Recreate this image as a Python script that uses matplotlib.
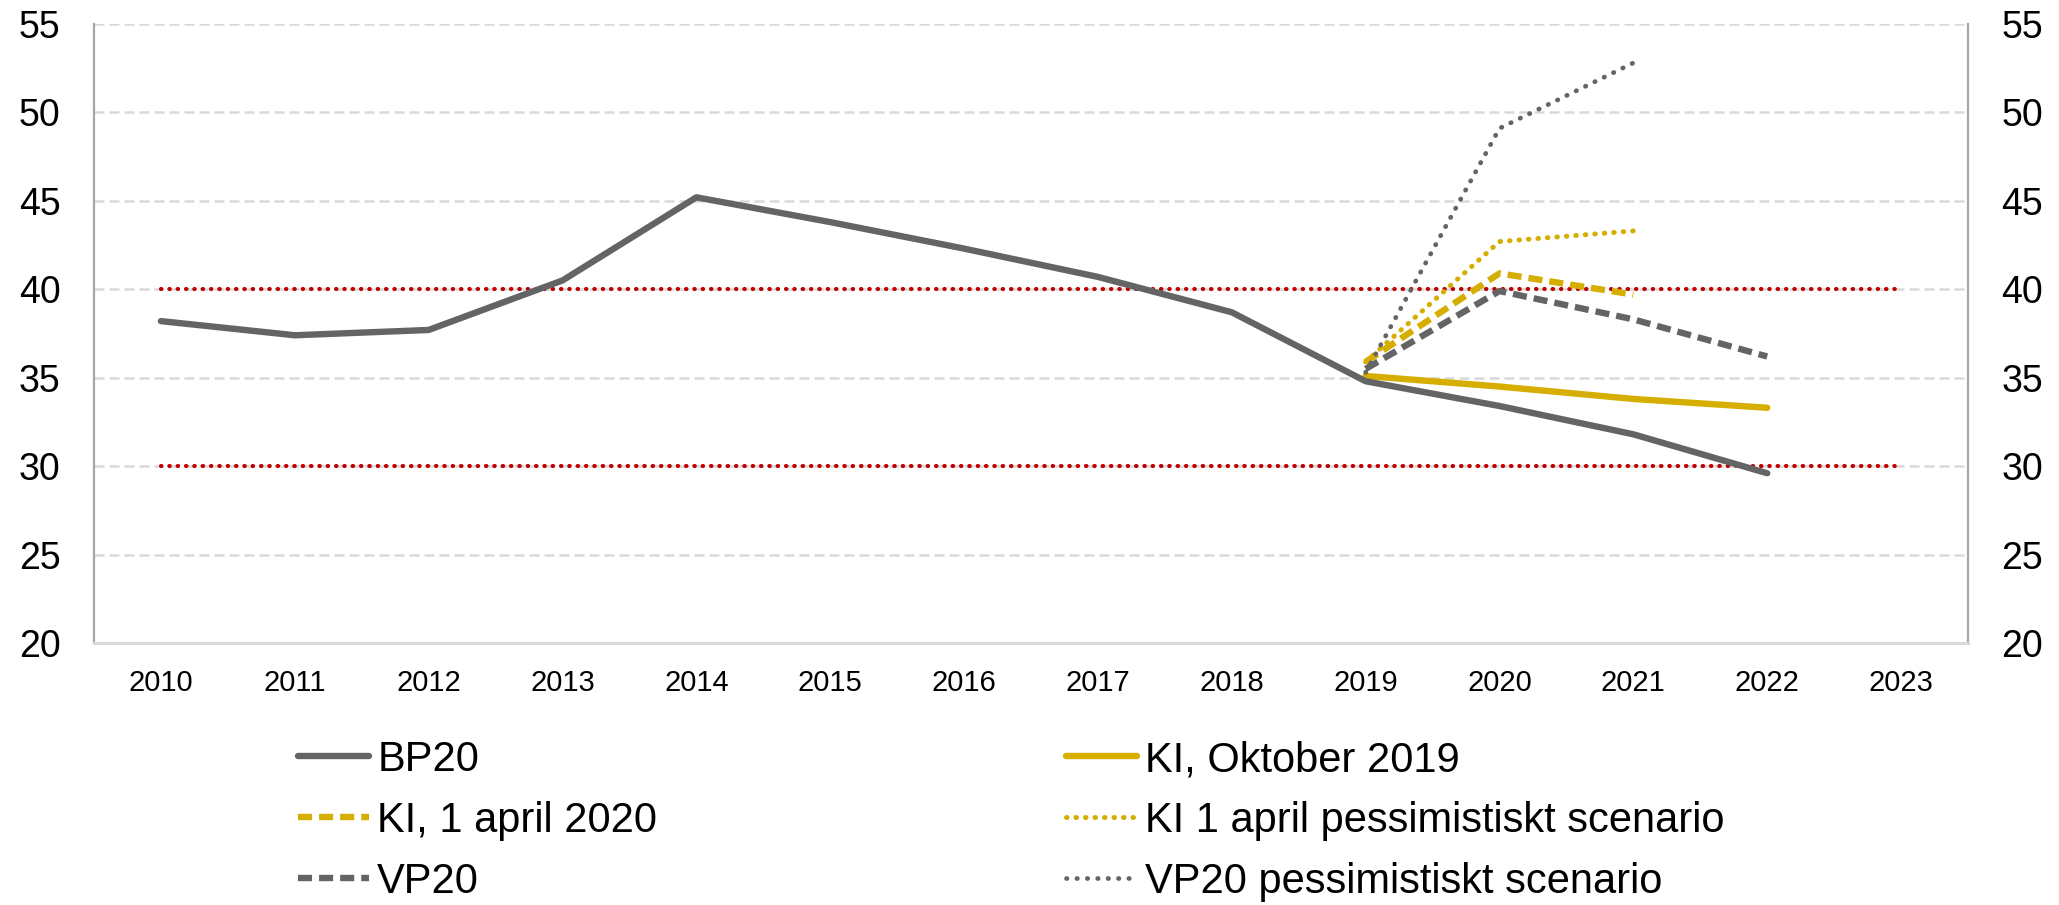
import matplotlib
matplotlib.use("Agg")
import matplotlib.pyplot as plt

plt.rcParams['font.family'] = ['Liberation Sans', 'DejaVu Sans']

years = list(range(2010, 2024))
bp20_years = list(range(2010, 2023))
bp20 = [38.2, 37.4, 37.7, 40.5, 45.2, 43.8, 42.3, 40.7, 38.7, 34.8, 33.4, 31.8, 29.6]
ki_okt_years = [2019, 2020, 2021, 2022]
ki_okt = [35.1, 34.5, 33.8, 33.3]
ki_apr_years = [2019, 2020, 2021]
ki_apr = [35.9, 40.9, 39.7]
ki_apr_pess_years = [2019, 2020, 2021]
ki_apr_pess = [35.9, 42.7, 43.3]
vp20_years = [2019, 2020, 2021, 2022]
vp20 = [35.5, 39.9, 38.3, 36.2]
vp20_pess_years = [2019, 2020, 2021]
vp20_pess = [35.3, 49.1, 52.8]
upper_limit = 40
lower_limit = 30
yticks = [20, 25, 30, 35, 40, 45, 50, 55]

GREY = '#646464'
YEL = '#D6AE00'
RED = '#C00000'

fig = plt.figure(figsize=(20.59, 9.05), dpi=100)
ax = fig.add_axes([94/2059, 1-643/905, (1968-94)/2059, (643-24)/905])

x = lambda ys: [y - 2010 for y in ys]
xs = x(years)

# gridlines
for v in yticks[1:]:
    ax.axhline(v, color='#D9D9D9', lw=1.8, dashes=(4, 2), zorder=0)

# limit lines
ax.plot(xs, [upper_limit]*len(xs), color=RED, lw=3.0, dashes=(0.1, 1.9),
        dash_capstyle='round', zorder=2)
ax.plot(xs, [lower_limit]*len(xs), color=RED, lw=3.0, dashes=(0.1, 1.9),
        dash_capstyle='round', zorder=2)

lw_main = 4.6
l_bp, = ax.plot(x(bp20_years), bp20, color=GREY, lw=lw_main, solid_capstyle='round',
                solid_joinstyle='round', zorder=5, label='BP20')
l_kiokt, = ax.plot(x(ki_okt_years), ki_okt, color=YEL, lw=lw_main, solid_capstyle='round',
                   zorder=4, label='KI, Oktober 2019')
l_kiapr, = ax.plot(x(ki_apr_years), ki_apr, color=YEL, lw=lw_main, dashes=(2.2, 1.1),
                   zorder=4, label='KI, 1 april 2020')
l_kipess, = ax.plot(x(ki_apr_pess_years), ki_apr_pess, color=YEL, lw=3.6, dashes=(0.1, 1.8),
                    dash_capstyle='round', zorder=4, label='KI 1 april pessimistiskt scenario')
l_vp, = ax.plot(x(vp20_years), vp20, color=GREY, lw=lw_main, dashes=(2.2, 1.1),
                zorder=4, label='VP20')
l_vppess, = ax.plot(x(vp20_pess_years), vp20_pess, color=GREY, lw=3.4, dashes=(0.1, 2.1),
                    dash_capstyle='round', zorder=4, label='VP20 pessimistiskt scenario')

ax.set_xlim(-0.5, 13.5)
ax.set_ylim(20, 55)
ax.set_xticks(xs)
ax.set_xticklabels([str(y) for y in years], fontsize=21)
ax.set_yticks(yticks)
ax.set_yticklabels([str(v) for v in yticks], fontsize=27)
ax.tick_params(axis='x', length=0, pad=19)
ax.tick_params(axis='y', length=0, pad=24, labelright=True, right=False)

ax.spines['top'].set_visible(False)
ax.spines['left'].set_color('#A6A6A6')
ax.spines['left'].set_linewidth(1.6)
ax.spines['right'].set_color('#A6A6A6')
ax.spines['right'].set_linewidth(1.6)
ax.spines['bottom'].set_color('#D9D9D9')
ax.spines['bottom'].set_linewidth(2.2)

leg_kw = dict(frameon=False, fontsize=30, handlelength=1.7, handletextpad=0.2,
              labelspacing=0.5, borderpad=0, borderaxespad=0, loc='upper left')
fig.legend(handles=[l_bp, l_kiapr, l_vp], bbox_to_anchor=(298/2059, 1-740/905), **leg_kw)
fig.legend(handles=[l_kiokt, l_kipess, l_vppess], bbox_to_anchor=(1066/2059, 1-740/905), **leg_kw)

fig.savefig('out.png', dpi=100)
